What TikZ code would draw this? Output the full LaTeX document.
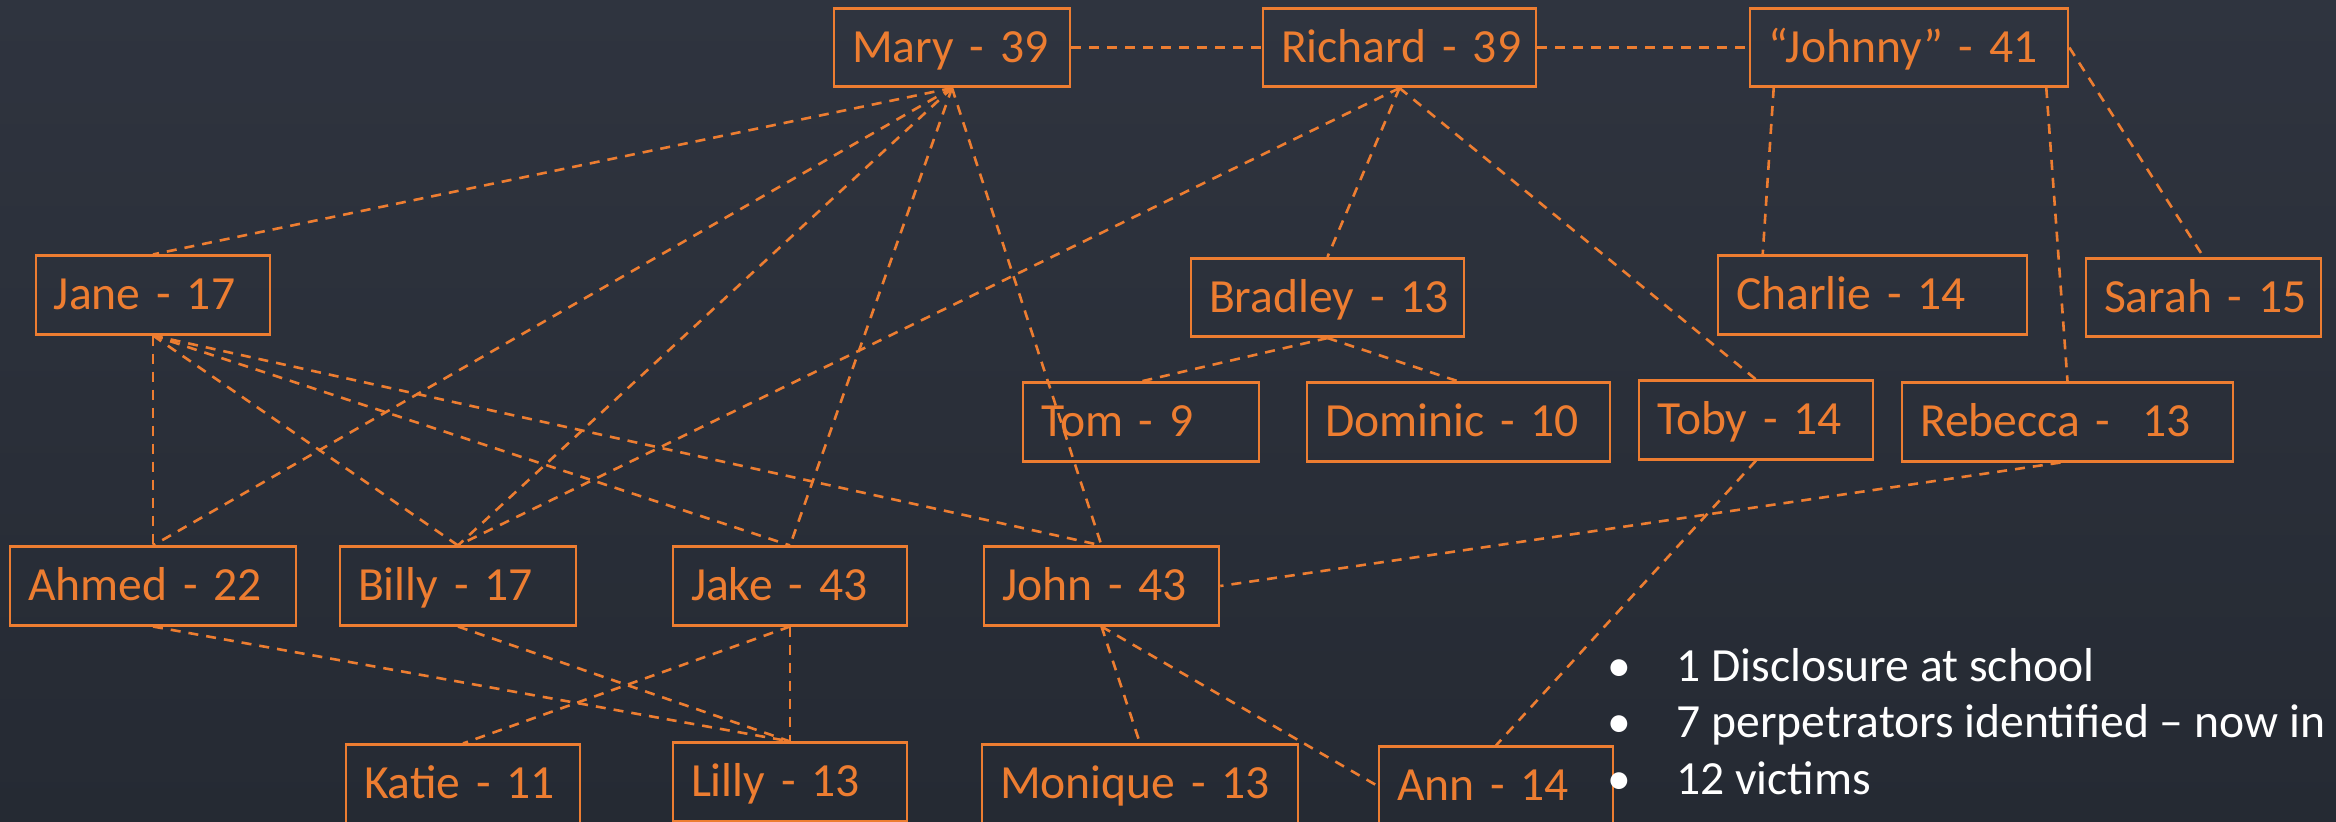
\documentclass[tikz,border=0pt]{standalone}
\usepackage{fontspec}
\setmainfont{Carlito}
\definecolor{porange}{HTML}{ED7D31}
\definecolor{bgtop}{HTML}{2F343F}
\definecolor{bgbot}{HTML}{252A33}
\tikzset{
  pbox/.style={draw=porange, line width=1.3pt, text=porange,
    font=\fontsize{23.8pt}{28pt}\selectfont, inner xsep=9pt, inner ysep=0pt,
    align=left, text height=15pt, text depth=0pt, minimum height=39.25pt},
  plink/.style={draw=porange, line width=1.3pt, dash pattern=on 5pt off 4pt},
  pbullet/.style={text=white, font=\fontsize{23.8pt}{28pt}\selectfont, inner sep=0pt}
}
\begin{document}
\begin{tikzpicture}[x=0.5pt, y=-0.5pt]
\useasboundingbox (0,0) rectangle (2336,822);
\clip (0,0) rectangle (2336,822);
\shade[top color=bgtop, bottom color=bgbot] (0,0) rectangle (2336,822);

% boxes
\node[pbox, text width=100pt]   (mary)    at (952,47.5)    {\mbox{Mary - 39}};
\node[pbox, text width=118.5pt] (richard) at (1399.5,47.5) {\mbox{Richard - 39}};
\node[pbox, text width=141pt]   (johnny)  at (1909,47.5)   {\mbox{“Johnny” - 41}};
\node[pbox, text width=99pt]    (jane)    at (153,295)     {\mbox{Jane - 17}};
\node[pbox, text width=118.5pt] (bradley) at (1327.5,297.5){\mbox{Bradley - 13}};
\node[pbox, text width=136.5pt] (charlie) at (1872.5,295)  {\mbox{Charlie - 14}};
\node[pbox, text width=99.5pt]  (sarah)   at (2203.5,297.5){\mbox{Sarah - 15}};
\node[pbox, text width=100pt]   (tom)     at (1141,422)    {\mbox{Tom - 9}};
\node[pbox, text width=133.5pt] (dominic) at (1458.5,422)  {\mbox{Dominic - 10}};
\node[pbox, text width=99pt]    (toby)    at (1756,420)    {\mbox{Toby - 14}};
\node[pbox, text width=147.5pt] (rebecca) at (2067.5,422)  {\mbox{Rebecca -\ \ 13}};
\node[pbox, text width=125pt]   (ahmed)   at (153,586)     {\mbox{Ahmed - 22}};
\node[pbox, text width=100pt]   (billy)   at (458,586)     {\mbox{Billy - 17}};
\node[pbox, text width=99pt]    (jake)    at (790,586)     {\mbox{Jake - 43}};
\node[pbox, text width=99.5pt]  (john)    at (1101.5,586)  {\mbox{John - 43}};
\node[pbox, text width=99pt]    (katie)   at (463,784)     {\mbox{Katie - 11}};
\node[pbox, text width=99pt]    (lilly)   at (790,782)     {\mbox{Lilly - 13}};
\node[pbox, text width=140pt]   (monique) at (1140,784)    {\mbox{Monique - 13}};
\node[pbox, text width=99pt]    (ann)     at (1496,786)    {\mbox{Ann - 14}};

% connectors
\draw[plink] (mary.east) -- (richard.west);
\draw[plink] (richard.east) -- (johnny.west);
\draw[plink] (mary.south) -- (jane.north);
\draw[plink] (mary.south) -- (ahmed.north);
\draw[plink] (mary.south) -- (billy.north);
\draw[plink] (mary.south) -- (jake.north);
\draw[plink] (mary.south) -- (john.north);
\draw[plink] (richard.south) -- (billy.north);
\draw[plink] (richard.south) -- (bradley.north);
\draw[plink] (richard.south) -- (toby.north);
\draw[plink] ([xshift=12.5pt]johnny.south west) -- ([xshift=23pt]charlie.north west);
\draw[plink] ([xshift=-11.5pt]johnny.south east) -- (rebecca.north);
\draw[plink] (johnny.east) -- (sarah.north);
\draw[plink] (bradley.south) -- (tom.north);
\draw[plink] (bradley.south) -- (dominic.north);
\draw[plink] (toby.south) -- (ann.north);
\draw[plink] ([xshift=-3.5pt]rebecca.south) -- (john.east);
\draw[plink] (jane.south) -- (ahmed.north);
\draw[plink] (jane.south) -- (billy.north);
\draw[plink] (jane.south) -- (jake.north);
\draw[plink] (jane.south) -- (john.north);
\draw[plink] (ahmed.south) -- (lilly.north);
\draw[plink] (billy.south) -- (lilly.north);
\draw[plink] (jake.south) -- (lilly.north);
\draw[plink] (jake.south) -- (katie.north);
\draw[plink] (john.south) -- (monique.north);
\draw[plink] (john.south) -- (ann.west);

% bullet text
\node[pbullet, anchor=base] (b1) at (1619,682) {•};
\node[pbullet, anchor=base west] (t1) at (1676,682) {1 Disclosure at school};
\node[pbullet, anchor=base] (b2) at (1619,738) {•};
\node[pbullet, anchor=base west] (t2) at (1676,738) {7 perpetrators identified – now in};
\node[pbullet, anchor=base] (b3) at (1619,795) {•};
\node[pbullet, anchor=base west] (t3) at (1676,795) {12 victims};
\end{tikzpicture}
\end{document}
